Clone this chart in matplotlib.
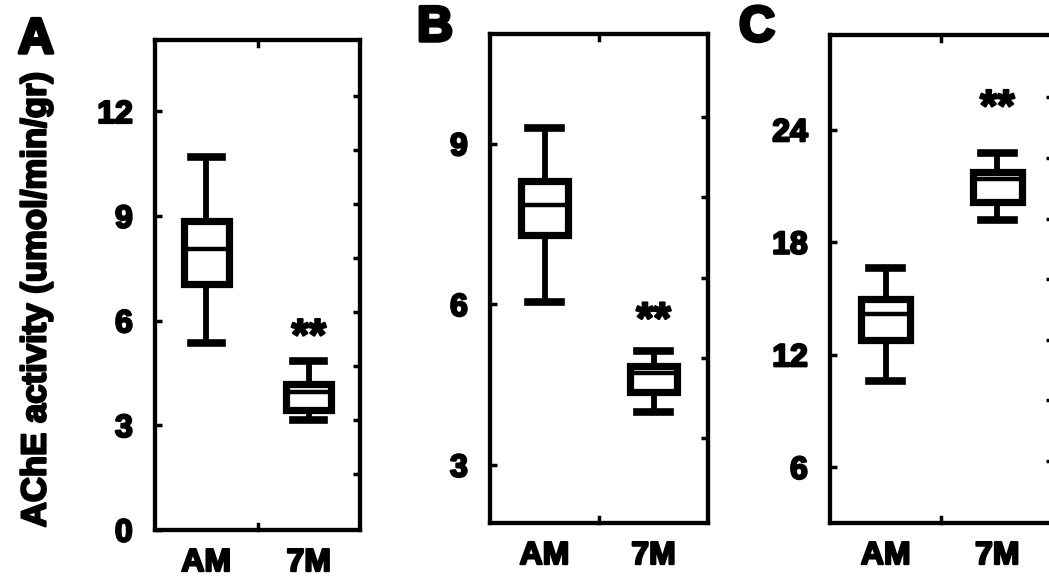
import matplotlib.pyplot as plt
import matplotlib.patheffects as pe
import numpy as np

plt.rcParams['font.family'] = ['Liberation Sans', 'DejaVu Sans']
plt.rcParams['font.weight'] = 'bold'

groups = ["AM", "7M"]

# box summaries per panel: whisker low, q1, median, q3, whisker high
a_whislo = [5.35, 3.15]
a_q1 = [7.05, 3.45]
a_med = [8.05, 3.95]
a_q3 = [8.85, 4.2]
a_whishi = [10.7, 4.85]

b_whislo = [6.05, 4.0]
b_q1 = [7.3, 4.37]
b_med = [7.85, 4.72]
b_q3 = [8.3, 4.85]
b_whishi = [9.3, 5.13]

c_whislo = [10.6, 19.2]
c_q1 = [12.8, 20.15]
c_med = [14.2, 21.35]
c_q3 = [15.0, 21.75]
c_whishi = [16.6, 22.75]

panels = [
    dict(letter="A", rect=[155, 40, 360, 530], ylim=(0, 14.05), yticks=[0, 3, 6, 9, 12],
         right=[1.6, 3.15, 4.7, 6.25, 7.8, 9.35, 10.9, 12.45],
         stats=(a_whislo, a_q1, a_med, a_q3, a_whishi), star=5.5,
         letter_xy=(36, 40)),
    dict(letter="B", rect=[490, 34, 708, 523], ylim=(1.92, 11.05), yticks=[3, 6, 9],
         right=[3.5, 5, 6.5, 8, 9.5],
         stats=(b_whislo, b_q1, b_med, b_q3, b_whishi), star=5.68,
         letter_xy=(435, 28)),
    dict(letter="C", rect=[830, 35, 1053, 523], ylim=(3.03, 29.05), yticks=[6, 12, 18, 24],
         right=[6.35, 9.6, 12.8, 16.05, 19.25, 22.5, 25.75],
         stats=(c_whislo, c_q1, c_med, c_q3, c_whishi), star=25.1,
         letter_xy=(757, 28)),
]

heavy = [pe.withStroke(linewidth=1.6, foreground="black")]

W, H = 1049, 586
fig = plt.figure(figsize=(W / 100, H / 100), dpi=100)

for p in panels:
    x0, y0, x1, y1 = p["rect"]
    ax = fig.add_axes([x0 / W, 1 - y1 / H, (x1 - x0) / W, (y1 - y0) / H])
    lo, q1, med, q3, hi = p["stats"]
    stats = [dict(whislo=lo[i], q1=q1[i], med=med[i], q3=q3[i], whishi=hi[i], fliers=[])
             for i in range(len(groups))]
    ax.bxp(stats, positions=[1, 2], widths=0.44, capwidths=0.3, patch_artist=True,
           boxprops=dict(facecolor="white", edgecolor="black", linewidth=5.2),
           whiskerprops=dict(color="black", linewidth=4.2),
           capprops=dict(color="black", linewidth=5.5),
           medianprops=dict(color="black", linewidth=3.2))
    ax.set_xlim(0.5, 2.5)
    ax.set_ylim(*p["ylim"])
    ax.set_yticks(p["yticks"])
    ax.set_xticks([1, 2])
    ax.set_xticklabels(groups)
    ax.tick_params(axis="y", direction="in", length=5, width=2.5, labelsize=23, pad=16)
    ax.tick_params(axis="x", length=0, pad=13, labelsize=23)
    for lab in ax.get_xticklabels() + ax.get_yticklabels():
        lab.set_path_effects(heavy)
    for s in ax.spines.values():
        s.set_linewidth(3)
    # single mid tick on top and bottom edges
    tr = ax.get_xaxis_transform()
    ax.plot([1.5, 1.5], [0, 0.012], transform=tr, color="black", lw=2.5, clip_on=False)
    ax.plot([1.5, 1.5], [0.988, 1], transform=tr, color="black", lw=2.5, clip_on=False)
    ax2 = ax.twinx()
    ax2.set_ylim(*p["ylim"])
    ax2.set_yticks(p["right"])
    ax2.set_yticklabels([])
    ax2.tick_params(axis="y", direction="in", length=5, width=2.5)
    for s in ax2.spines.values():
        s.set_linewidth(3)
    ax.text(2, p["star"], "**", ha="center", va="center", fontsize=32,
            fontweight="bold", path_effects=heavy)
    fig.text(p["letter_xy"][0] / W, 1 - p["letter_xy"][1] / H, p["letter"],
             ha="center", va="center", fontsize=36, fontweight="bold",
             path_effects=[pe.withStroke(linewidth=2.5, foreground="black")])
    if p["letter"] == "A":
        ax.set_ylabel("AChE activity (umol/min/gr)", fontsize=25, fontweight="bold",
                      path_effects=heavy)
        ax.yaxis.set_label_coords(-0.5, 0.47)

fig.savefig("out.png", dpi=100)
